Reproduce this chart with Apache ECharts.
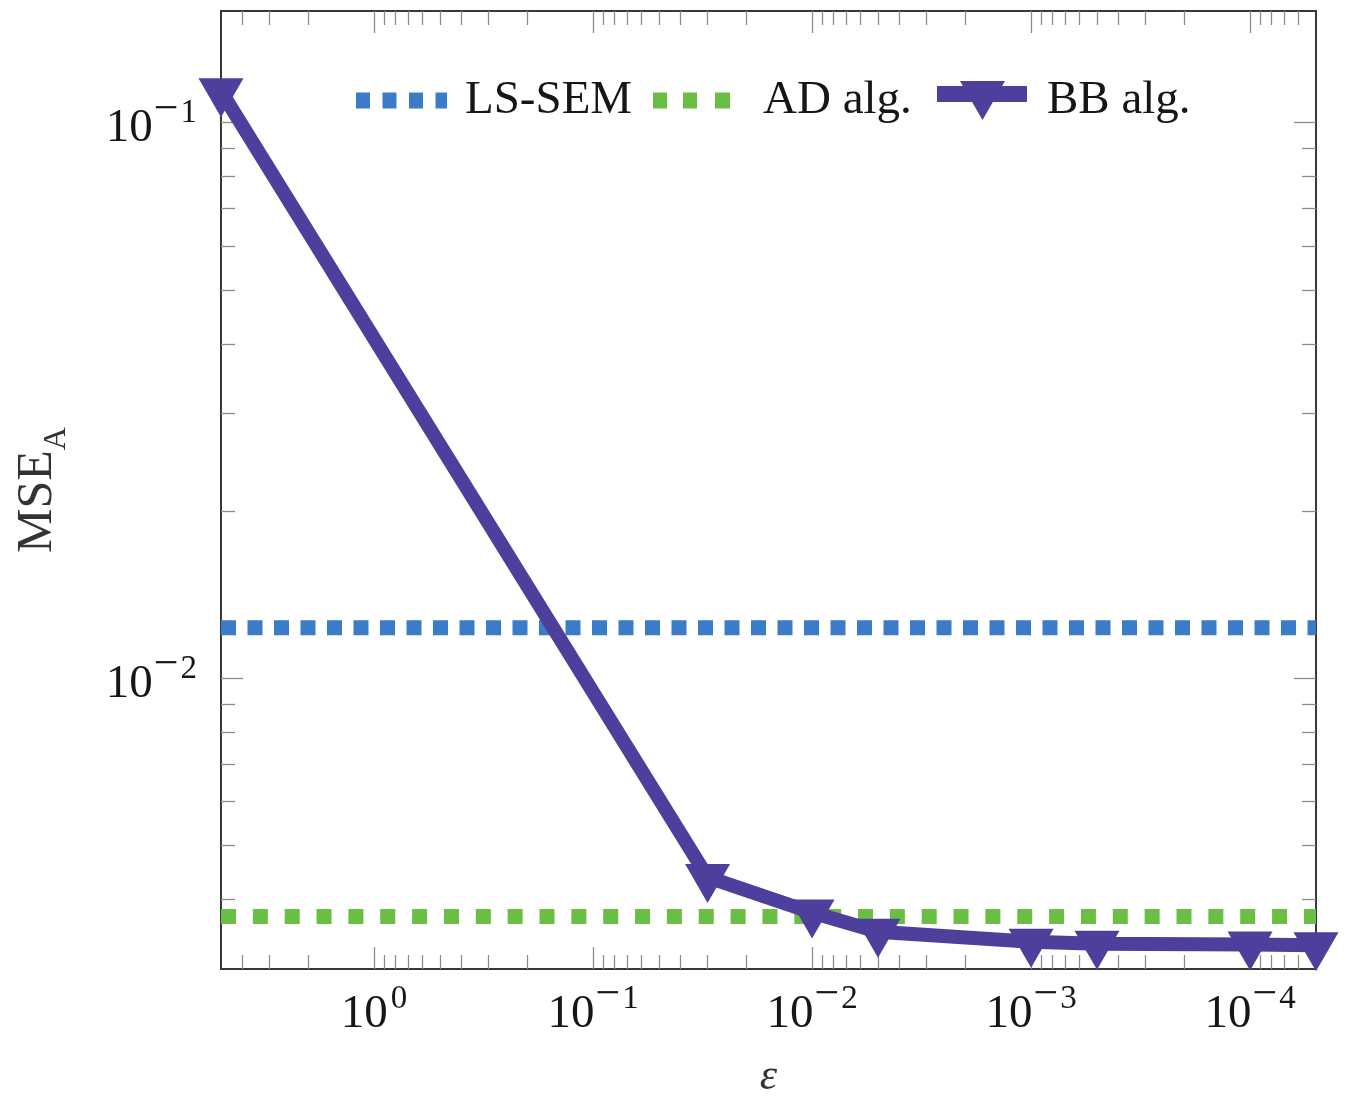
<!DOCTYPE html>
<html><head><meta charset="utf-8">
<script src="https://cdn.jsdelivr.net/npm/echarts@6/dist/echarts.min.js"></script>
<style>html,body{margin:0;padding:0;background:#fff}#c{width:1352px;height:1098px}</style>
</head><body><div id="c"></div>
<script>
// ---- data ----
const epsilon = [5, 0.03, 0.01, 0.005, 0.001, 0.0005, 0.0001, 0.00005];
const bbAlg = [0.1139, 0.00439, 0.00379, 0.00350, 0.00336, 0.00333, 0.00332, 0.00331];
const lsSem = 0.01233;
const adAlg = 0.00373;
const xRange = [0.00005, 5];
const yRange = [0.003, 0.1588];
const xTickValues = [1, 0.1, 0.01, 0.001, 0.0001];
const xTickExponents = ['0', '\u22121', '\u22122', '\u22123', '\u22124'];
const yTickValues = [0.1, 0.01];
const yTickExponents = ['\u22121', '\u22122'];
const minorMultipliers = [2, 3, 4, 5, 6, 7, 8, 9];
const seriesNames = ['LS-SEM', 'AD alg.', 'BB alg.'];

function minorTicks(range) {
  const out = [];
  for (let e = -6; e <= 1; e++) {
    for (const m of minorMultipliers) {
      const v = m * Math.pow(10, e);
      if (v > range[0] * 1.0001 && v < range[1] * 0.9999) out.push(v);
    }
  }
  return out;
}
const xMinor = minorTicks(xRange);
const yMinor = minorTicks(yRange);

const FONT = 'Liberation Serif';
const TXT = '#161616';
const tickColor = '#8c8c8c';
const frameColor = '#383838';
const BLUE = '#3b7bc8';
const GREEN = '#69be43';
const PURPLE = '#4e3f9c';

const rich = {
  b: { fontFamily: FONT, fontSize: 47, color: TXT, padding: [18, 0, 5, 0] },
  m: { fontFamily: FONT, fontSize: 44, color: TXT, padding: [0, 2, 25, 1] },
  s: { fontFamily: FONT, fontSize: 33, color: TXT, padding: [0, 0, 18, 0] },
  z: { fontFamily: FONT, fontSize: 33, color: TXT, padding: [0, 0, 18, 3] }
};
function fmtFactory(vals, exps) {
  return function (v) {
    const i = vals.findIndex(t => Math.abs(Math.log10(t / v)) < 1e-6);
    if (i < 0) return '';
    const e = exps[i];
    if (e.charAt(0) === '\u2212') return '{b|10}{m|\u2212}{s|' + e.slice(1) + '}';
    return '{b|10}{z|' + e + '}';
  };
}

function axisCommon(type, range, extra) {
  return Object.assign({
    type: 'log', logBase: 10, min: range[0], max: range[1],
    splitLine: { show: false }, minorTick: { show: false }, minorSplitLine: { show: false },
    axisPointer: { show: false }
  }, extra);
}
function lineOn() { return { show: true, onZero: false, lineStyle: { color: frameColor, width: 2 } }; }
function ticks(values, len) {
  return { show: true, inside: true, length: len, customValues: values, lineStyle: { color: tickColor, width: 1.3 } };
}

const xAxis = [
  axisCommon('x', xRange, {
    position: 'bottom', inverse: true, axisLine: lineOn(), axisTick: ticks(xTickValues, 22),
    axisLabel: { show: true, customValues: xTickValues, margin: 4, formatter: fmtFactory(xTickValues, xTickExponents), rich: rich },
    name: '\u03b5', nameLocation: 'middle', nameGap: 86,
    nameTextStyle: { fontFamily: FONT, fontStyle: 'italic', fontSize: 44, color: '#333' }
  }),
  axisCommon('x', xRange, { position: 'bottom', inverse: true, axisLine: { show: false }, axisTick: ticks(xMinor, 14), axisLabel: { show: false } }),
  axisCommon('x', xRange, { position: 'top', inverse: true, axisLine: lineOn(), axisTick: ticks(xTickValues, 22), axisLabel: { show: false } }),
  axisCommon('x', xRange, { position: 'top', inverse: true, axisLine: { show: false }, axisTick: ticks(xMinor, 14), axisLabel: { show: false } })
];
const yAxis = [
  axisCommon('y', yRange, {
    position: 'left', axisLine: lineOn(), axisTick: ticks(yTickValues, 22),
    axisLabel: { show: true, customValues: yTickValues, margin: 24, formatter: fmtFactory(yTickValues, yTickExponents), rich: rich },
    name: '{m|MSE}{a|A}', nameLocation: 'middle', nameGap: 148,
    nameTextStyle: { rich: {
      m: { fontFamily: FONT, fontSize: 50, color: '#333' },
      a: { fontFamily: FONT, fontSize: 32, color: '#333', padding: [39, 0, 0, 0] }
    } }
  }),
  axisCommon('y', yRange, { position: 'left', axisLine: { show: false }, axisTick: ticks(yMinor, 14), axisLabel: { show: false } }),
  axisCommon('y', yRange, { position: 'right', axisLine: lineOn(), axisTick: ticks(yTickValues, 22), axisLabel: { show: false } }),
  axisCommon('y', yRange, { position: 'right', axisLine: { show: false }, axisTick: ticks(yMinor, 14), axisLabel: { show: false } })
];

function legendFor(name, left, w, h, icon, padLeft, padBottom) {
  return {
    show: true, data: [name], left: left, top: 77, padding: 0, orient: 'horizontal',
    itemWidth: w, itemHeight: h, icon: icon, selectedMode: false,
    itemStyle: { borderWidth: 0 },
    textStyle: { fontFamily: FONT, fontSize: 47, color: TXT, padding: [0, 0, padBottom, padLeft] }
  };
}

const option = {
  animation: false,
  backgroundColor: '#ffffff',
  grid: { left: 221, right: 36, top: 11, bottom: 129, containLabel: false, outerBoundsMode: 'none' },
  xAxis: xAxis,
  yAxis: yAxis,
  legend: [
    legendFor(seriesNames[0], 356, 91, 16,
      'path://M0,0h14v16h-14z M26.5,0h14v16h-14z M53,0h14v16h-14z M79.5,0h11.5v16h-11.5z', 13, 0),
    legendFor(seriesNames[1], 653, 77, 16,
      'path://M0,0h14v16h-14z M30,0h14v16h-14z M62,0h15v16h-15z', 28, 0),
    legendFor(seriesNames[2], 937, 90, 39,
      'path://M0,5H90V21H0Z M23,0H68L45.5,39Z', 15, 13)
  ],
  series: [
    {
      name: seriesNames[0], type: 'line', xAxisIndex: 0, yAxisIndex: 0,
      data: [[xRange[1], lsSem], [xRange[0], lsSem]],
      symbol: 'none', color: BLUE, z: 2, silent: true,
      lineStyle: { color: BLUE, width: 15, type: [15, 11.5], cap: 'butt' },
      itemStyle: { color: BLUE, borderWidth: 0 }
    },
    {
      name: seriesNames[1], type: 'line', xAxisIndex: 0, yAxisIndex: 0,
      data: [[xRange[1], adAlg], [xRange[0], adAlg]],
      symbol: 'none', color: GREEN, z: 2, silent: true,
      lineStyle: { color: GREEN, width: 15, type: [15, 16.85], cap: 'butt' },
      itemStyle: { color: GREEN, borderWidth: 0 }
    },
    {
      name: seriesNames[2], type: 'line', xAxisIndex: 0, yAxisIndex: 0,
      data: epsilon.map((x, i) => [x, bbAlg[i]]),
      symbol: 'path://M0,0L52,0L26,45Z', symbolSize: [45, 39], symbolOffset: [0, 6.5],
      color: PURPLE, z: 3, clip: false, silent: true,
      lineStyle: { color: PURPLE, width: 14, join: 'miter', cap: 'butt' },
      itemStyle: { color: PURPLE, borderWidth: 0, opacity: 1 }
    }
  ]
};
const chart = echarts.init(document.getElementById('c'), null, { renderer: 'canvas' });
chart.setOption(option);
</script>
</body></html>
